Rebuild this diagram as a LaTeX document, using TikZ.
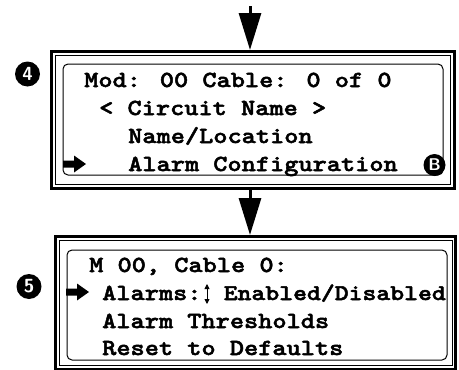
\documentclass[tikz,border=0pt]{standalone}
\usepackage{fontspec}
\usepackage{tikz}
\usetikzlibrary{arrows.meta}
\newfontfamily\lcdfont{lmmonolt10-bold.otf}[FakeStretch=1.175, FakeBold=2.2]

\begin{document}
\begin{tikzpicture}
        [x=1pt, y=-1pt,
         screen/.style={draw, line width=3pt, inner sep=0pt},
         inscreen/.style={draw, line width=1pt, inner sep=0pt},
         lcd/.style={draw, line width=1pt, rounded corners=5pt, inner sep=0pt},
         lcdrow/.style={anchor=base west, inner sep=0pt, font=\lcdfont\fontsize{23}{23}\selectfont},
         badge/.style={circle, fill=black, text=white, inner sep=0pt, minimum size=25pt,
                       font=\sffamily\bfseries\fontsize{19}{19}\selectfont},
         flow/.style={line width=3pt, -{Triangle[length=37pt,width=22pt]}},
         updn/.style={line width=0.9pt, {Triangle[length=5pt,width=5pt]}-{Triangle[length=5pt,width=5pt]}},
         pointer/.pic={\fill (0,-3.5) -- (11,-3.5) -- (11,-8.5) -- (23,0) -- (11,8.5) -- (11,3.5) -- (0,3.5) -- cycle;}]
      \useasboundingbox (0,0) rectangle (459,370);
      % screen 4
      \node[screen, minimum width=403pt, minimum height=137pt] (scr4) at (253,120) {};
      \node[inscreen, minimum width=395pt, minimum height=129.5pt] (in4) at (252.5,119.75) {};
      \node[lcd, minimum width=380pt, minimum height=111pt] (lcd4) at (253,119.5) {};
      \node[badge] (n4) at (27.5,74) {4};
      \node[lcdrow] (l4a) at (84,87) {Mod: 00 Cable: 0 of 0};
      \node[lcdrow] (l4b) at (99,115) {< Circuit Name >};
      \node[lcdrow] (l4c) at (128,143) {Name/Location};
      \node[lcdrow] (l4d) at (128,171) {Alarm Configuration};
      \node[badge, minimum size=22pt, font=\sffamily\bfseries\fontsize{17}{17}\selectfont] (nb) at (434.5,165) {B};
      \pic at (63,164) {pointer};
      % screen 5
      \node[screen, minimum width=400.5pt, minimum height=132.5pt] (scr5) at (255.25,302.75) {};
      \node[inscreen, minimum width=393pt, minimum height=125.5pt] (in5) at (255.5,302.75) {};
      \node[lcd, minimum width=380pt, minimum height=110pt] (lcd5) at (257,305) {};
      \node[badge] (n5) at (29,286.5) {5};
      \node[lcdrow] (l5a) at (89,272) {M 00, Cable 0:};
      \node[lcdrow] (l5b) at (102,300) {Alarms:};
      \node[lcdrow, anchor=base east, font=\lcdfont\fontsize{22.5}{22.5}\selectfont] (l5v) at (446,300) {Enabled/Disabled};
      \node[lcdrow] (l5c) at (102,328) {Alarm Thresholds};
      \node[lcdrow] (l5d) at (102,355) {Reset to Defaults};
      \pic at (66,292) {pointer};
      \coordinate (udtop) at (207,284);
      \coordinate (udbot) at (207,304);
      \draw[updn] (udtop) -- (udbot);
      % flow
      \coordinate (top) at (250,6);
      \draw[flow] (top) -- (top |- scr4.north);
      \draw[flow] (top |- scr4.south) -- (top |- scr5.north);
\end{tikzpicture}
\end{document}
